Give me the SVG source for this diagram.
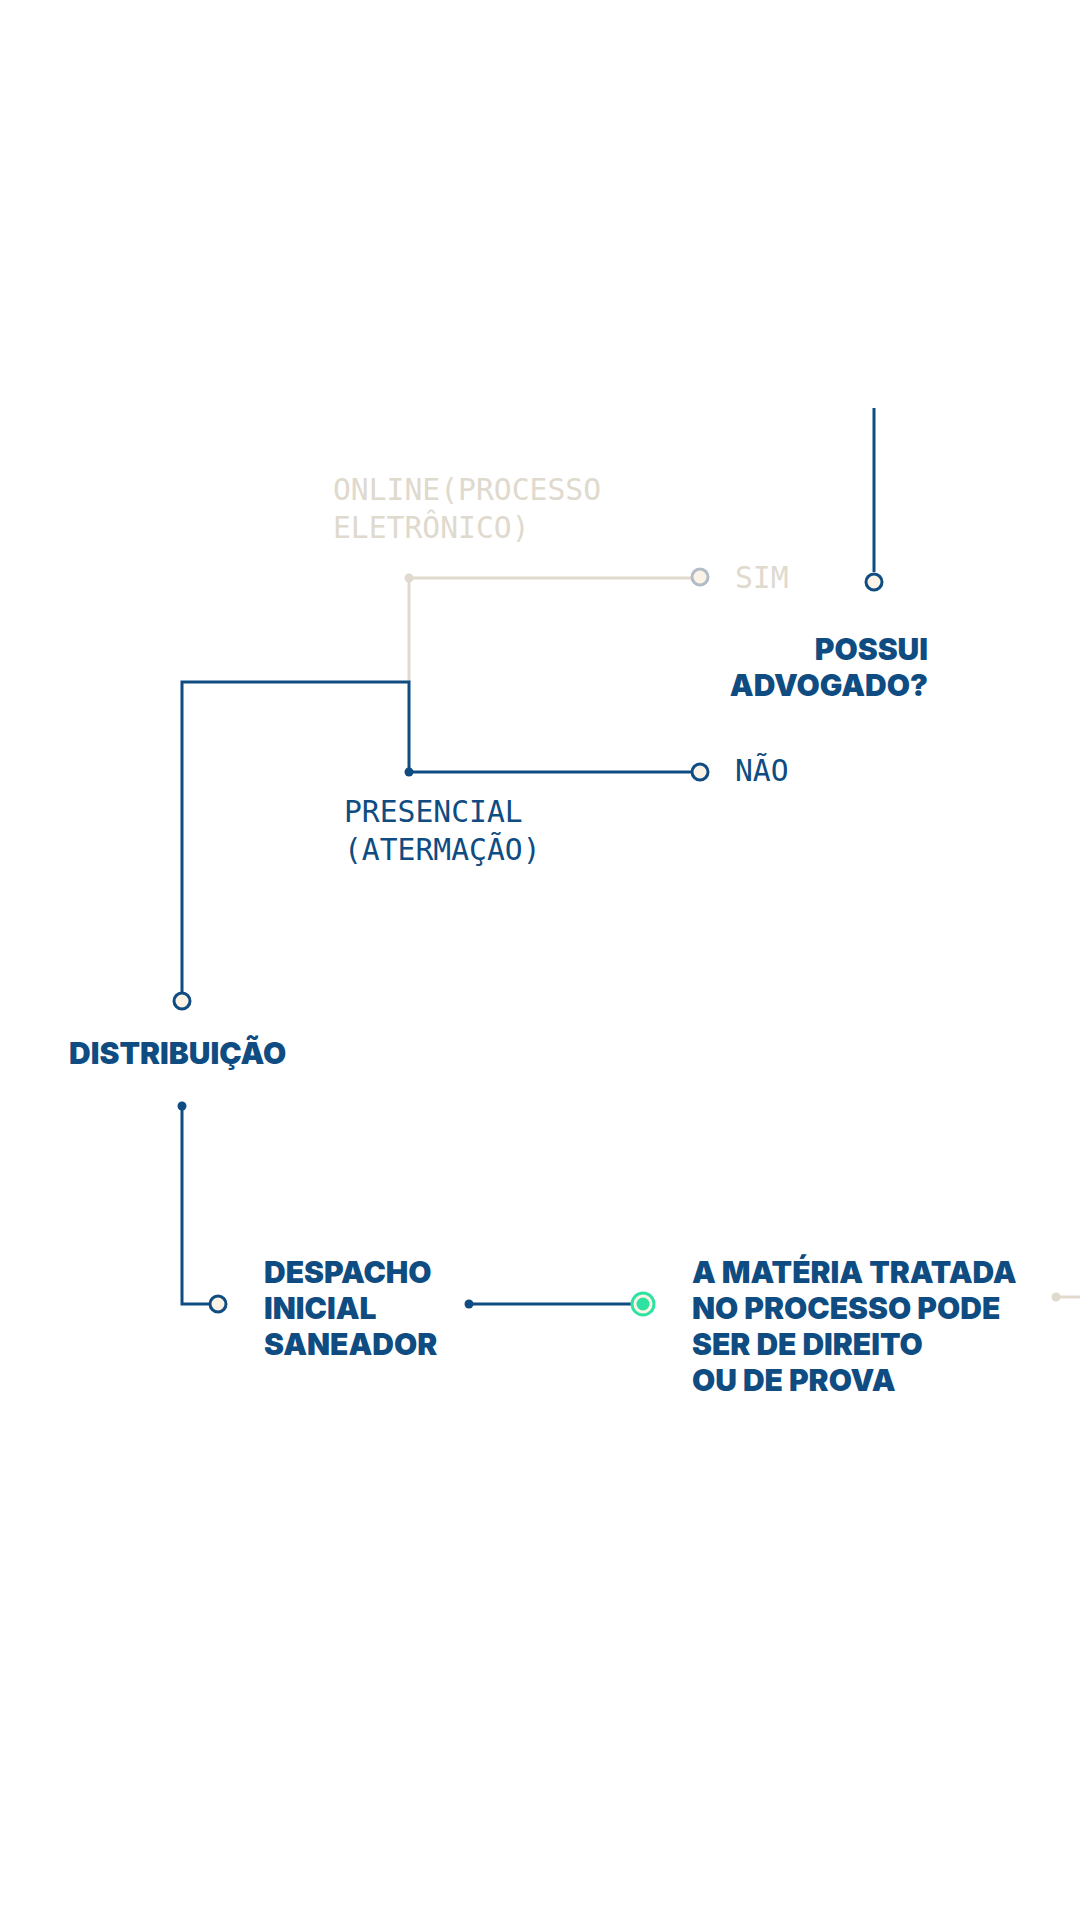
<svg xmlns="http://www.w3.org/2000/svg" width="1080" height="1920" viewBox="0 0 1080 1920">
<style>
.bg{fill:#ffffff}
.ln{fill:none;stroke:#0f4c81;stroke-width:3}
.lg{fill:none;stroke:#e0d9ce;stroke-width:3}
.dot{fill:#0f4c81}
.dotg{fill:#e0d9ce}
.ring{fill:#fbf3e6;stroke:#0f4c81;stroke-width:3}
.ringg{fill:#fbf3e6;stroke:#b4bcc8;stroke-width:3}
.ringgr{fill:#fbf3e6;stroke:#2ee3a1;stroke-width:3}
.h{font-family:Inter,"Liberation Sans",sans-serif;font-weight:900;font-size:30px;fill:#0f4c81}
.m{font-family:"DejaVu Sans Mono","Liberation Mono",monospace;font-size:29.7px;fill:#0f4c81}
.mg{fill:#e0d9ce}
</style>
<rect class="bg" x="0" y="0" width="1080" height="1920"/>
<g id="connectors">
<path class="ln" d="M874 408 V572"/>
<path class="lg" d="M409 578 H691"/>
<path class="lg" d="M409 578 V682"/>
<path class="ln" d="M182 992 V682 H409 V772 H691"/>
<path class="ln" d="M182 1106 V1304 H209"/>
<path class="ln" d="M469 1304 H631"/>
<path class="lg" d="M1056 1297 H1080"/>
</g>
<g id="node-possui">
<circle class="ring" cx="874" cy="582" r="8"/>
<text class="h" text-anchor="end"><tspan x="928" y="660">POSSUI</tspan><tspan x="928" y="696">ADVOGADO?</tspan></text>
</g>
<g id="node-online">
<circle class="dotg" cx="409" cy="578" r="4.5"/>
<text class="m mg"><tspan x="333" y="500">ONLINE(PROCESSO</tspan><tspan x="333" y="538">ELETRÔNICO)</tspan></text>
</g>
<g id="node-sim">
<circle class="ringg" cx="700" cy="577" r="8"/>
<text class="m mg" x="735" y="588">SIM</text>
</g>
<g id="node-presencial">
<circle class="dot" cx="409" cy="772" r="4.5"/>
<text class="m"><tspan x="344" y="822">PRESENCIAL</tspan><tspan x="344" y="860">(ATERMAÇÃO)</tspan></text>
</g>
<g id="node-nao">
<circle class="ring" cx="700" cy="772" r="8"/>
<text class="m" x="735" y="781">NÃO</text>
</g>
<g id="node-distribuicao">
<circle class="ring" cx="182" cy="1001" r="8"/>
<text class="h" x="69" y="1064">DISTRIBUIÇÃO</text>
<circle class="dot" cx="182" cy="1106" r="4.5"/>
</g>
<g id="node-despacho">
<circle class="ring" cx="218" cy="1304" r="8"/>
<text class="h"><tspan x="264" y="1283">DESPACHO</tspan><tspan x="264" y="1319">INICIAL</tspan><tspan x="264" y="1355">SANEADOR</tspan></text>
<circle class="dot" cx="469" cy="1304" r="4.5"/>
</g>
<g id="node-materia">
<circle class="ringgr" cx="643" cy="1304" r="11"/>
<circle cx="643" cy="1304" r="6.5" fill="#2ee3a1"/>
<text class="h"><tspan x="692" y="1283">A MATÉRIA TRATADA</tspan><tspan x="692" y="1319">NO PROCESSO PODE</tspan><tspan x="692" y="1355">SER DE DIREITO</tspan><tspan x="692" y="1391">OU DE PROVA</tspan></text>
<circle class="dotg" cx="1056" cy="1297" r="4.5"/>
</g>
</svg>
